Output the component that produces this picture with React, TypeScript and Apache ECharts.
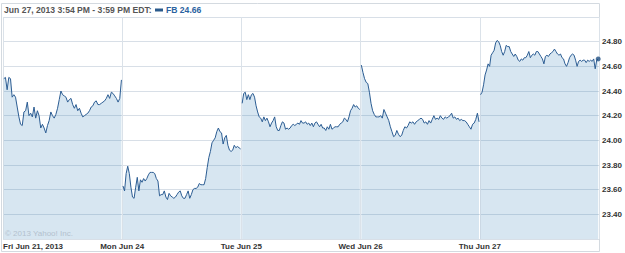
import React, { useEffect, useRef } from "react";
import * as echarts from "echarts";

const dayLabels = ["Fri Jun 21, 2013", "Mon Jun 24", "Tue Jun 25", "Wed Jun 26", "Thu Jun 27"];
const yTicks = [23.2, 25.0, 0.2]; // min, max, step

const fri = [24.50,24.51,24.41,24.51,24.50,24.35,24.37,24.35,24.27,24.19,24.13,24.12,24.23,24.24,24.31,24.20,24.22,24.19,24.27,24.18,24.24,24.20,24.10,24.13,24.10,24.06,24.12,24.16,24.23,24.20,24.18,24.21,24.26,24.33,24.40,24.37,24.36,24.35,24.31,24.33,24.34,24.29,24.26,24.29,24.24,24.26,24.22,24.19,24.20,24.21,24.22,24.24,24.27,24.28,24.31,24.32,24.29,24.29,24.30,24.31,24.32,24.34,24.37,24.34,24.39,24.38,24.36,24.34,24.31,24.34,24.49];
const mon = [23.63,23.59,23.73,23.79,23.73,23.62,23.54,23.53,23.62,23.70,23.59,23.68,23.66,23.69,23.67,23.69,23.72,23.74,23.74,23.74,23.73,23.69,23.67,23.55,23.56,23.56,23.59,23.54,23.52,23.57,23.55,23.54,23.53,23.54,23.56,23.58,23.59,23.55,23.53,23.53,23.56,23.59,23.53,23.56,23.60,23.61,23.61,23.62,23.65,23.64,23.64,23.64,23.69,23.78,23.86,23.91,23.98,24.00,24.02,24.07,24.10,24.07,24.06,23.97,24.02,24.04,23.96,23.92,23.91,23.92,23.96,23.94,23.95,23.94,23.93];
const tue = [24.30,24.38,24.39,24.33,24.37,24.33,24.37,24.38,24.35,24.28,24.23,24.19,24.18,24.15,24.19,24.16,24.18,24.15,24.11,24.14,24.16,24.19,24.11,24.08,24.08,24.12,24.15,24.14,24.09,24.10,24.09,24.10,24.12,24.13,24.12,24.13,24.14,24.13,24.16,24.14,24.14,24.15,24.13,24.14,24.12,24.14,24.11,24.14,24.15,24.13,24.11,24.13,24.10,24.10,24.08,24.11,24.09,24.13,24.09,24.10,24.11,24.11,24.11,24.13,24.14,24.15,24.18,24.17,24.15,24.19,24.24,24.26,24.29,24.27,24.28,24.26,24.25];
const wed = [24.61,24.55,24.50,24.47,24.46,24.39,24.30,24.24,24.21,24.19,24.19,24.19,24.20,24.18,24.25,24.22,24.19,24.16,24.11,24.07,24.03,24.04,24.08,24.05,24.03,24.04,24.08,24.11,24.10,24.12,24.15,24.14,24.15,24.13,24.15,24.16,24.17,24.18,24.17,24.14,24.15,24.13,24.16,24.14,24.17,24.20,24.17,24.18,24.17,24.20,24.18,24.17,24.19,24.18,24.19,24.20,24.22,24.18,24.19,24.17,24.18,24.16,24.17,24.16,24.16,24.15,24.13,24.11,24.09,24.13,24.14,24.17,24.22,24.15];
const thu = [24.37,24.39,24.45,24.53,24.57,24.62,24.60,24.69,24.71,24.73,24.79,24.81,24.80,24.77,24.72,24.69,24.72,24.77,24.76,24.76,24.72,24.70,24.68,24.70,24.68,24.65,24.64,24.66,24.65,24.67,24.67,24.69,24.72,24.67,24.69,24.70,24.69,24.72,24.72,24.70,24.68,24.66,24.62,24.68,24.69,24.68,24.70,24.71,24.72,24.74,24.72,24.70,24.69,24.70,24.67,24.66,24.62,24.60,24.63,24.67,24.69,24.70,24.69,24.65,24.60,24.64,24.65,24.64,24.65,24.65,24.63,24.65,24.64,24.65,24.64,24.66,24.58,24.65,24.66];
const days = [fri, mon, tue, wed, thu];

const headerText = "Jun 27, 2013 3:54 PM - 3:59 PM EDT:";
const seriesLabel = "FB 24.66";
const copyright = "\u00A9 2013 Yahoo! Inc.";

const SLOTS = 78; // 5-minute intervals per trading day
const FONT = '"Liberation Sans", Arial, sans-serif';
const LINE = "#2c5d93";

export default function App() {
  const ref = useRef<HTMLDivElement>(null);
  useEffect(() => {
    if (!ref.current) return;
    const chart = echarts.init(ref.current, undefined, { renderer: "svg" });
    const daySeries = days.map((vals, d) => ({
      type: "line",
      data: vals.map((v, k) => [d * SLOTS + 0.5 + (k * (SLOTS - 1)) / (vals.length - 1), v]),
      symbol: "none",
      lineStyle: { color: LINE, width: 1 },
      areaStyle: { color: "rgb(55,130,185)", opacity: 0.2, origin: "start" },
      z: 2,
    }));
    const last = thu[thu.length - 1];
    const lastX = 4 * SLOTS + 0.5 + (SLOTS - 1);
    chart.setOption({
      animation: false,
      grid: { left: 2, right: 25.5, top: 17, bottom: 14 },
      xAxis: {
        type: "value",
        min: 0,
        max: SLOTS * 5,
        interval: SLOTS,
        axisLine: { show: false },
        axisTick: { show: false },
        splitLine: { show: true, lineStyle: { color: "#dbe2e9", width: 1 } },
        axisLabel: {
          show: true,
          margin: 3,
          fontSize: 8,
          fontWeight: "bold",
          fontFamily: FONT,
          color: "#333",
          showMaxLabel: false,
          alignMinLabel: "left",
          formatter: (v: number) => dayLabels[Math.round(v / SLOTS)] ?? "",
        },
      },
      yAxis: {
        type: "value",
        position: "right",
        min: yTicks[0],
        max: yTicks[1],
        interval: yTicks[2],
        axisLine: { show: false },
        axisTick: { show: false },
        splitLine: { show: true, lineStyle: { color: "#d8dfe7", width: 1 } },
        axisLabel: {
          margin: 3,
          fontSize: 8,
          fontWeight: "bold",
          fontFamily: FONT,
          color: "#333",
          showMinLabel: false,
          showMaxLabel: false,
          formatter: (v: number) => v.toFixed(2),
        },
      },
      series: [
        ...daySeries,
        {
          type: "scatter",
          data: [[lastX, last]],
          symbol: "circle",
          symbolSize: 5,
          itemStyle: { color: "#1f4f82" },
          z: 3,
        },
      ],
      graphic: [
        {
          type: "rect",
          shape: { x: 1.5, y: 3.5, width: 598, height: 248 },
          style: { fill: "none", stroke: "#d4dae0", lineWidth: 1 },
          z: 0,
          silent: true,
        },
        {
          type: "text",
          x: 4,
          y: 10,
          style: { text: headerText, fill: "#555", fontSize: 8.6, fontWeight: "bold", fontFamily: FONT, verticalAlign: "middle" },
        },
        {
          type: "rect",
          shape: { x: 155, y: 8.5, width: 8, height: 3 },
          style: { fill: "#2a5a8c" },
        },
        {
          type: "text",
          x: 166,
          y: 10,
          style: { text: seriesLabel, fill: "#2a62a0", fontSize: 8.6, fontWeight: "bold", fontFamily: FONT, verticalAlign: "middle" },
        },
        {
          type: "text",
          x: 5,
          y: 233,
          style: { text: copyright, fill: "#b3c1ce", fontSize: 8, fontFamily: FONT, verticalAlign: "middle" },
          z: 10,
        },
      ],
    });
    return () => chart.dispose();
  }, []);
  return <div ref={ref} style={{ position: "absolute", left: 0, top: 0, width: 625, height: 253 }} />;
}
